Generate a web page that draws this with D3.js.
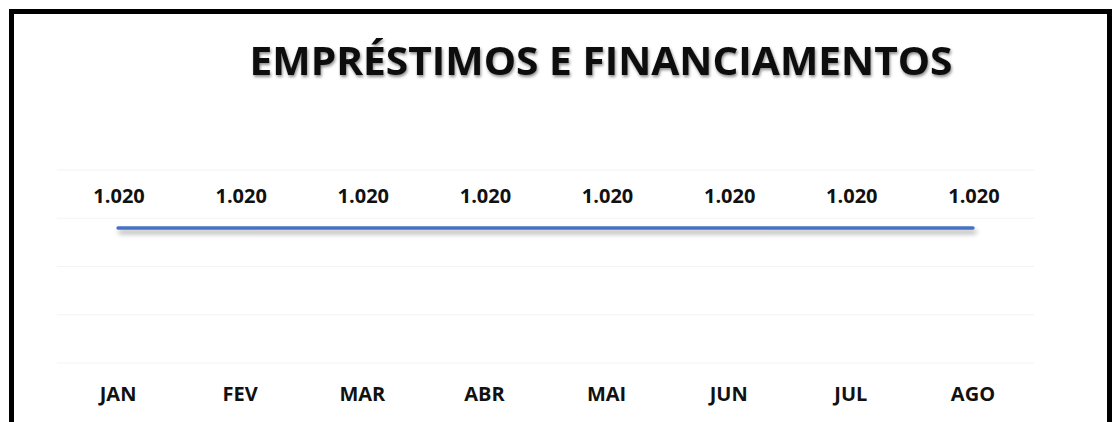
<!DOCTYPE html>
<html>
<head>
<meta charset="utf-8" />
<title>Empréstimos e Financiamentos</title>
<style>
  html, body { margin: 0; background: #fff; }
  svg { display: block; font-family: "Open Sans", "Noto Sans", sans-serif; }
</style>
</head>
<body>
<div id="container"></div>
<script src="https://cdn.jsdelivr.net/npm/d3@7"></script>
<script>
var months = ["JAN", "FEV", "MAR", "ABR", "MAI", "JUN", "JUL", "AGO"];
var values = [1020, 1020, 1020, 1020, 1020, 1020, 1020, 1020];
var yMin = 1013, yMax = 1023;
var title = "EMPRÉSTIMOS E FINANCIAMENTOS";

var W = 1114, H = 422;

var svg = d3.select("#container").append("svg")
    .attr("width", W)
    .attr("height", H);

var defs = svg.append("defs");
// flat line has a zero-height bbox, so the filter region is given in user space
defs.append("filter").attr("id", "lineShadow")
    .attr("filterUnits", "userSpaceOnUse")
    .attr("x", 0).attr("y", 0).attr("width", W).attr("height", H)
  .append("feDropShadow")
    .attr("dx", 2).attr("dy", 4).attr("stdDeviation", 2.5)
    .attr("flood-color", "#000").attr("flood-opacity", 0.35);
defs.append("filter").attr("id", "textShadow")
  .append("feDropShadow")
    .attr("dx", 1).attr("dy", 2).attr("stdDeviation", 1.5)
    .attr("flood-color", "#000").attr("flood-opacity", 0.45);

var x = d3.scaleBand().domain(months).range([57, 1034]);
var y = d3.scaleLinear().domain([yMin, yMax]).range([363, 170]);

// faint gridlines
var gridVals = d3.range(5).map(function(i) { return yMin + i * (yMax - yMin) / 4; });
svg.append("g")
    .selectAll("line")
    .data(gridVals)
    .join("line")
    .attr("x1", 57).attr("x2", 1034)
    .attr("y1", function(d) { return y(d); })
    .attr("y2", function(d) { return y(d); })
    .attr("stroke", "#f3f3f3")
    .attr("stroke-width", 1);

var line = d3.line()
    .x(function(d, i) { return x(months[i]) + x.bandwidth() / 2; })
    .y(function(d) { return y(d); });

svg.append("path")
    .datum(values)
    .attr("d", line)
    .attr("fill", "none")
    .attr("stroke", "#4472c4")
    .attr("stroke-width", 3.5)
    .attr("stroke-linecap", "round")
    .attr("filter", "url(#lineShadow)");

// value labels
svg.append("g")
    .selectAll("text")
    .data(values)
    .join("text")
    .attr("x", function(d, i) { return x(months[i]) + x.bandwidth() / 2 + 1; })
    .attr("y", function(d) { return y(d) - 25; })
    .attr("text-anchor", "middle")
    .attr("font-size", 20)
    .attr("font-weight", 700)
    .attr("fill", "#111")
    .text(function(d) { return d3.format(",")(d).replace(",", "."); });

// category labels
var xAxis = svg.append("g")
    .attr("transform", "translate(0,401)")
    .call(d3.axisBottom(x).tickSize(0).tickPadding(0));
xAxis.select(".domain").remove();
xAxis.selectAll("text")
    .attr("dy", 0)
    .attr("font-family", "'Open Sans', sans-serif")
    .attr("font-size", 20)
    .attr("font-weight", 700)
    .attr("fill", "#111");

// title
svg.append("text")
    .attr("x", 601)
    .attr("y", 75)
    .attr("text-anchor", "middle")
    .attr("font-size", 39)
    .attr("font-weight", 700)
    .attr("fill", "#111")
    .attr("textLength", 703)
    .attr("lengthAdjust", "spacingAndGlyphs")
    .attr("filter", "url(#textShadow)")
    .text(title);

// frame
svg.append("rect")
    .attr("x", 11.5).attr("y", 11.5)
    .attr("width", 1098).attr("height", 430)
    .attr("fill", "none")
    .attr("stroke", "#000")
    .attr("stroke-width", 5);
</script>
</body>
</html>
